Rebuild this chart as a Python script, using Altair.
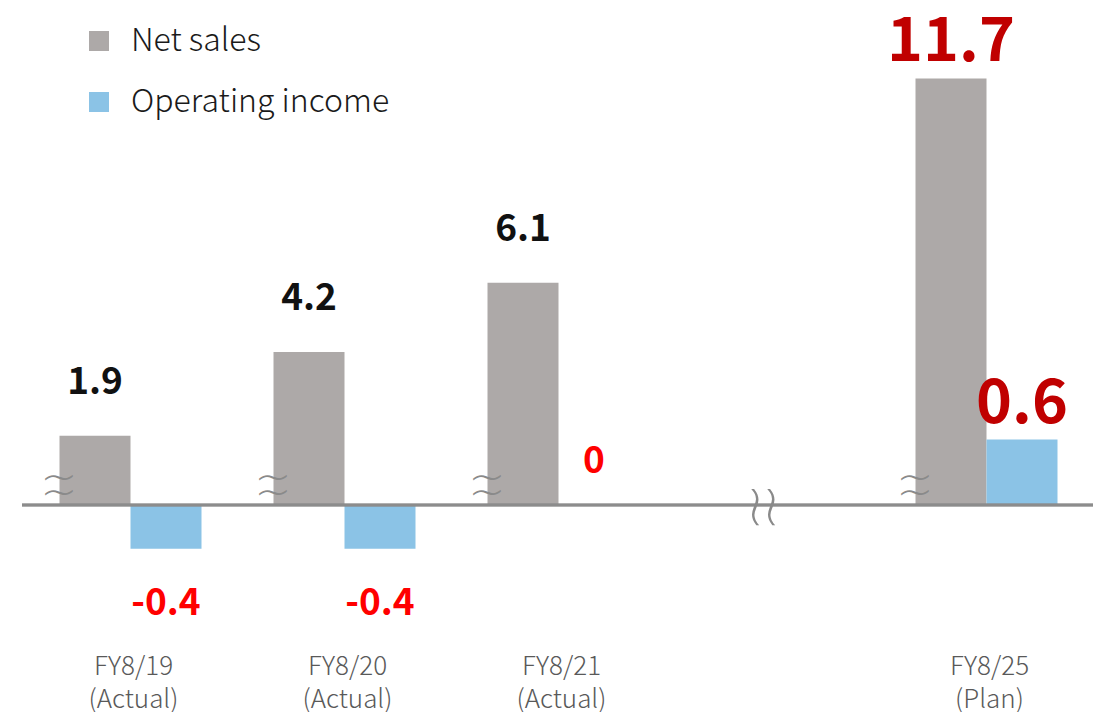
import altair as alt
import pandas as pd

categories = ["FY8/19 (Actual)", "FY8/20 (Actual)", "FY8/21 (Actual)", "FY8/25 (Plan)"]
x_domain = ["FY8/19 (Actual)", "FY8/20 (Actual)", "FY8/21 (Actual)", "gap", "FY8/25 (Plan)"]
series = ["Net sales", "Operating income"]
net_sales = [1.9, 4.2, 6.1, 11.7]
net_labels = ["1.9", "4.2", "6.1", "11.7"]
operating_income = [-0.4, -0.4, 0.0, 0.6]
op_labels = ["-0.4", "-0.4", "0", "0.6"]

rows = []
for c, v, l in zip(categories, net_sales, net_labels):
    rows.append({"category": c, "series": "Net sales", "value": v, "label": l, "plan": "Plan" in c})
for c, v, l in zip(categories, operating_income, op_labels):
    rows.append({"category": c, "series": "Operating income", "value": v, "label": l, "plan": "Plan" in c})
df = pd.DataFrame(rows)

FONT = "Noto Sans CJK JP"
GREY = "#ADA9A8"
BLUE = "#8BC3E6"

x_enc = alt.X(
    "category:N",
    scale=alt.Scale(domain=x_domain, range=[15.5, 1085.5], paddingInner=0, paddingOuter=0),
    axis=alt.Axis(
        title=None, domain=False, ticks=False, labelAngle=0, labelFontSize=26,
        labelColor="#595959", labelFont=FONT, labelFontWeight=300, labelPadding=8,
        labelLineHeight=33, labelBaseline="top", labelOffset=3, labelOverlap=False,
        labelExpr="datum.value == 'gap' ? '' : split(datum.value, ' ')",
    ),
)
xoff_enc = alt.XOffset(
    "series:N", scale=alt.Scale(domain=series, paddingInner=0, paddingOuter=0.507)
)
color_enc = alt.Color(
    "series:N",
    scale=alt.Scale(domain=series, range=[GREY, BLUE]),
    legend=alt.Legend(
        title=None, orient="none", legendX=75, legendY=17, symbolType="square",
        symbolSize=400, symbolStrokeWidth=0, labelFontSize=32, labelFont=FONT,
        labelFontWeight=300, labelColor="#1a1a1a", labelOffset=16, labelLimit=0,
        rowPadding=29, padding=0, direction="vertical",
    ),
)

y_net = alt.Y("value:Q", scale=alt.Scale(domain=[-3.841, 13.635], nice=False, zero=False), axis=None)
y_op = alt.Y("value:Q", scale=alt.Scale(domain=[-1.282, 4.551], nice=False, zero=False), axis=None)

base = alt.Chart(df)
net_base = base.transform_filter(alt.datum.series == "Net sales")
op_base = base.transform_filter(alt.datum.series == "Operating income")

net_bars = net_base.mark_bar().encode(x=x_enc, xOffset=xoff_enc, y=y_net, color=color_enc)
net_text = net_base.transform_filter(alt.datum.plan == False).mark_text(
    font=FONT, fontWeight="bold", fontSize=37, color="#111111", baseline="alphabetic", dy=-42
).encode(x=x_enc, xOffset=xoff_enc, y=y_net, text="label:N")
net_text_plan = net_base.transform_filter(alt.datum.plan == True).mark_text(
    font=FONT, fontWeight="bold", fontSize=61, color="#C00000", baseline="alphabetic", dy=-18
).encode(x=x_enc, xOffset=xoff_enc, y=y_net, text="label:N")
waves = net_base.mark_text(
    text=["~", "~"], font="DejaVu Sans", fontWeight=200, fontSize=44, lineHeight=15,
    color="#8a8a8a", baseline="middle", dx=-36, dy=-26
).encode(x=x_enc, xOffset=xoff_enc, y=alt.datum(0))

net_layer = alt.layer(net_bars, net_text, net_text_plan, waves)

op_bars = op_base.mark_bar().encode(x=x_enc, xOffset=xoff_enc, y=y_op, color=color_enc)
op_text_neg = op_base.transform_filter(alt.datum.value < 0).mark_text(
    font=FONT, fontWeight="bold", fontSize=37, color="#FF0000", baseline="alphabetic", dy=66
).encode(x=x_enc, xOffset=xoff_enc, y=y_op, text="label:N")
op_text_zero = op_base.transform_filter(alt.datum.value == 0).mark_text(
    font=FONT, fontWeight="bold", fontSize=37, color="#FF0000", baseline="alphabetic", dy=-32
).encode(x=x_enc, xOffset=xoff_enc, y=y_op, text="label:N")
op_text_plan = op_base.transform_filter(alt.datum.plan == True).mark_text(
    font=FONT, fontWeight="bold", fontSize=61, color="#C00000", baseline="alphabetic", dy=-16
).encode(x=x_enc, xOffset=xoff_enc, y=y_op, text="label:N")
zero_rule = op_base.mark_rule(color="#8c8c8c", strokeWidth=2.5).encode(
    y=alt.datum(0), x=alt.value(14), x2=alt.value(1085)
)
gap_break = alt.Chart(pd.DataFrame({"category": ["gap"]})).mark_text(
    text=["~", "~"], font="DejaVu Sans", fontWeight=200, fontSize=58, lineHeight=16,
    color="#8a8a8a", angle=90, baseline="middle", dx=2, dy=3
).encode(x=alt.X("category:N", scale=alt.Scale(domain=x_domain)), y=alt.datum(0))

op_layer = alt.layer(op_bars, op_text_neg, op_text_zero, op_text_plan, zero_rule, gap_break)

chart = (
    alt.layer(net_layer, op_layer)
    .resolve_scale(y="independent")
    .properties(width=1095, height=637, padding=0)
    .configure_view(stroke=None)
)

chart.save("out.html", embed_options={"renderer": "svg", "actions": False})
